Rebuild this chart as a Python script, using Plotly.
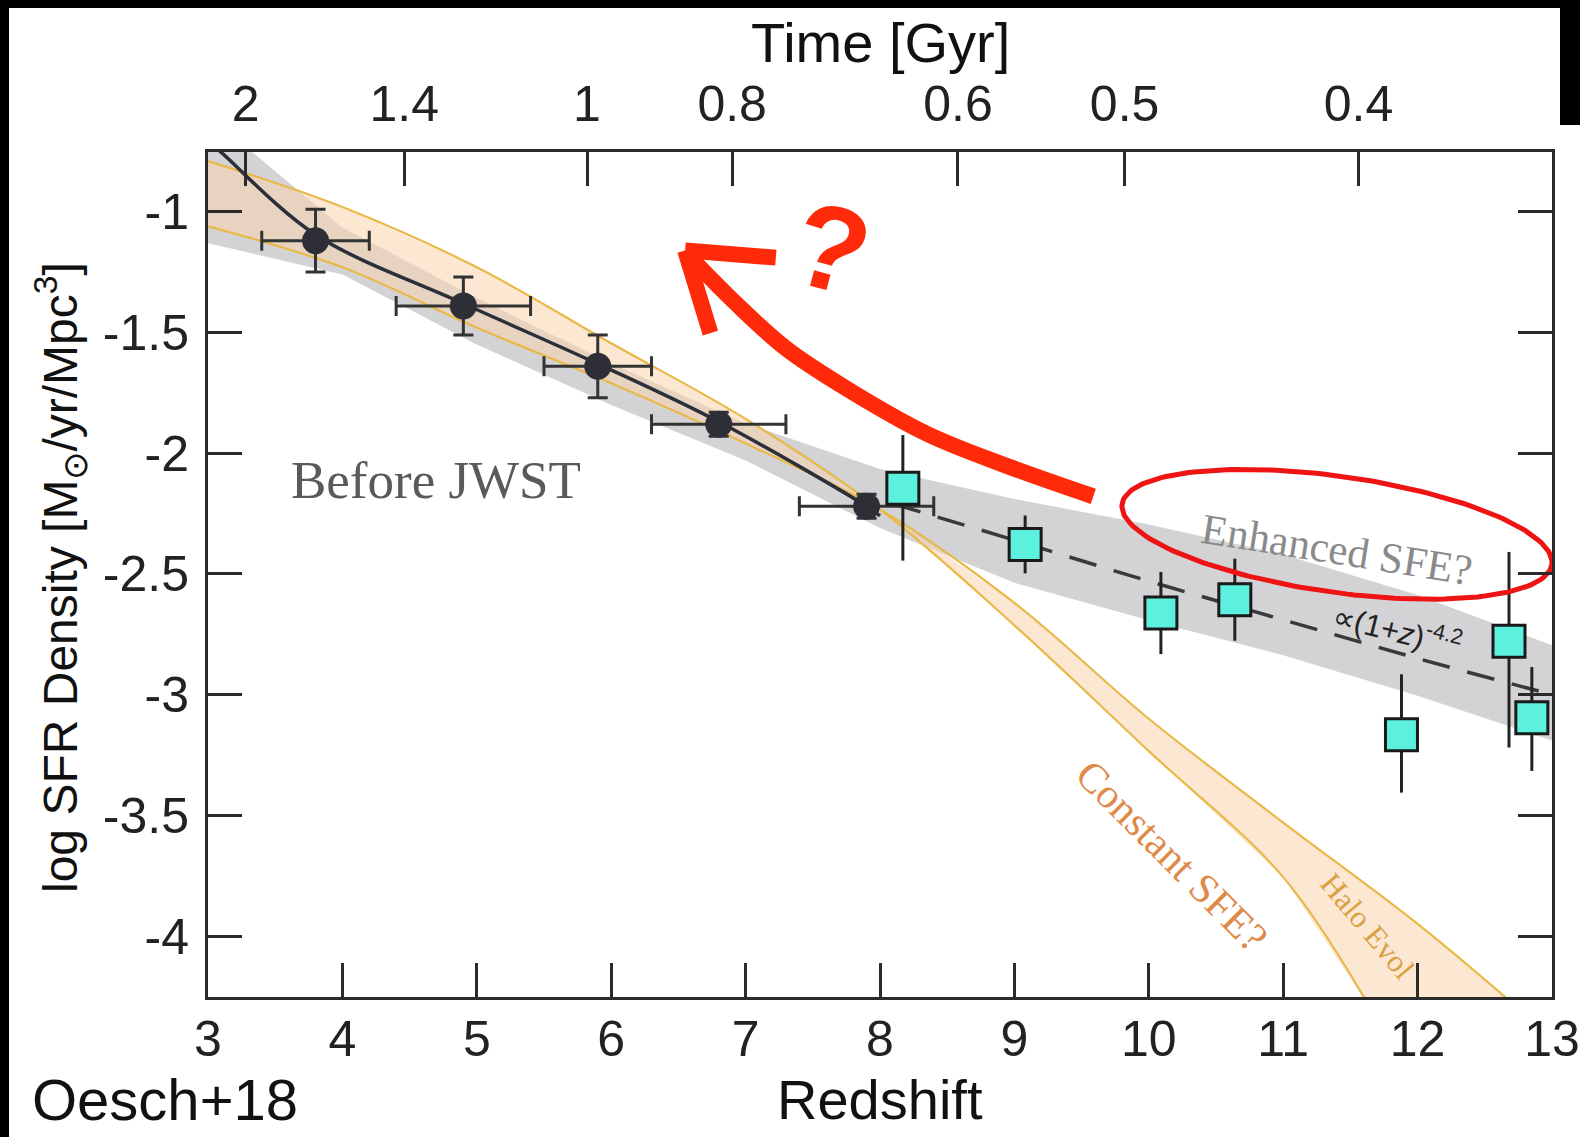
import numpy as np
import plotly.graph_objects as go

# ---------------- data ----------------
# Pre-JWST points (Oesch+18)
pre_z = [3.8, 4.9, 5.9, 6.8, 7.9]
pre_sfr = [-1.12, -1.39, -1.64, -1.88, -2.22]
pre_zerr = [0.4, 0.5, 0.4, 0.5, 0.5]
pre_err_up = [0.13, 0.12, 0.13, 0.05, 0.05]
pre_err_dn = [0.13, 0.12, 0.13, 0.05, 0.05]

# High-z points
hz_z = [8.17, 9.08, 10.09, 10.64, 11.88, 12.68, 12.85]
hz_sfr = [-2.145, -2.378, -2.662, -2.607, -3.166, -2.779, -3.096]
hz_err_up = [0.22, 0.12, 0.17, 0.17, 0.25, 0.37, 0.21]
hz_err_dn = [0.30, 0.12, 0.17, 0.17, 0.24, 0.44, 0.22]

# Fit curve (solid) before JWST
fit_z = [3.0, 3.09, 3.8, 4.9, 5.9, 6.8, 7.9, 8.0]
fit_sfr = [-0.71, -0.75, -1.095, -1.38, -1.63, -1.87, -2.22, -2.26]

# (1+z)^-4.2 extrapolation (dashed)
ext_z = [8.1, 9.0, 10.0, 11.0, 12.0, 13.0]
ext_sfr = [-2.21, -2.36, -2.53, -2.69, -2.85, -3.0]

# Gray uncertainty band
band_z = [3.0, 4.0, 5.0, 6.0, 7.0, 8.0, 9.0, 10.0, 11.0, 12.0, 13.0]
band_hi = [-0.60, -1.065, -1.357, -1.628, -1.877, -2.066, -2.19, -2.295, -2.42, -2.587, -2.796]
band_lo = [-1.13, -1.26, -1.55, -1.80, -2.03, -2.31, -2.537, -2.692, -2.837, -3.005, -3.19]

# Halo-evolution (constant SFE) model band edges
halo_a_z = [3.0, 4.0, 5.0, 6.0, 7.0, 8.0, 9.0, 10.0, 11.0, 11.65]
halo_a_sfr = [-0.79, -0.98, -1.23, -1.545, -1.858, -2.233, -2.713, -3.234, -3.756, -4.3]
halo_b_z = [3.0, 4.0, 5.0, 6.0, 7.0, 8.0, 9.0, 10.0, 11.0, 12.0, 12.75]
halo_b_sfr = [-1.06, -1.23, -1.48, -1.71, -1.96, -2.233, -2.62, -3.10, -3.53, -3.95, -4.3]

# Top axis: cosmic time ticks (redshift positions)
time_tick_z = [3.28, 4.46, 5.82, 6.90, 8.58, 9.82, 11.56]
time_tick_text = ["2", "1.4", "1", "0.8", "0.6", "0.5", "0.4"]

x_ticks = list(range(3, 14))
y_ticks = [-4, -3.5, -3, -2.5, -2, -1.5, -1]
y_tick_text = ["-4", "-3.5", "-3", "-2.5", "-2", "-1.5", "-1"]

# Red hand-drawn arrow (data coordinates)
arrow_z = [9.587, 8.95, 8.35, 7.75, 7.30, 6.925, 6.663, 6.55]
arrow_sfr = [-2.179, -2.054, -1.920, -1.732, -1.566, -1.378, -1.232, -1.165]
arrow_head_a_z = [6.55, 7.225]
arrow_head_a_sfr = [-1.16, -1.19]
arrow_head_b_z = [6.55, 6.738]
arrow_head_b_sfr = [-1.16, -1.503]

# Ellipse around "Enhanced SFE?"
ell_center = (11.40, -2.336)

# ---------------- layout constants ----------------
W, H = 1580, 1137
L, R, T, B = 208, 28, 152, 140
XR = [3, 13]
YR = [-4.2525, -0.7525]
pw, ph = W - L - R, H - T - B
px_per_x = pw / (XR[1] - XR[0])
px_per_y = ph / (YR[1] - YR[0])

AX = "#2a2a2a"
SANS = "Liberation Sans, Arial, sans-serif"
SERIF = "Liberation Serif, Times New Roman, serif"

fig = go.Figure()

# gray band
fig.add_trace(go.Scatter(
    x=band_z + band_z[::-1], y=band_hi + band_lo[::-1],
    fill="toself", fillcolor="rgba(203,203,206,0.85)", line=dict(width=0),
    mode="lines", hoverinfo="skip", showlegend=False))

# orange halo band
fig.add_trace(go.Scatter(
    x=halo_a_z + halo_b_z[::-1], y=halo_a_sfr + halo_b_sfr[::-1],
    fill="toself", fillcolor="rgba(250,212,175,0.55)", line=dict(width=0),
    mode="lines", hoverinfo="skip", showlegend=False))
for zz, yy in [(halo_a_z, halo_a_sfr), (halo_b_z, halo_b_sfr)]:
    fig.add_trace(go.Scatter(x=zz, y=yy, mode="lines", line=dict(color="#e9b948", width=2.2, shape="spline"),
                             hoverinfo="skip", showlegend=False))

# fit curve
fig.add_trace(go.Scatter(x=fit_z, y=fit_sfr, mode="lines",
                         line=dict(color="#2b2f3a", width=3.5, shape="spline"),
                         hoverinfo="skip", showlegend=False))
# dashed extrapolation
fig.add_trace(go.Scatter(x=ext_z, y=ext_sfr, mode="lines",
                         line=dict(color="#3a3a3a", width=3.5, dash="28px,18px", shape="spline"),
                         hoverinfo="skip", showlegend=False))

# pre-JWST points
fig.add_trace(go.Scatter(
    x=pre_z, y=pre_sfr, mode="markers",
    marker=dict(size=27, color="#2e2f36"),
    error_x=dict(type="data", array=pre_zerr, color="#333", thickness=3, width=10),
    error_y=dict(type="data", array=pre_err_up, arrayminus=pre_err_dn, color="#333", thickness=3, width=10),
    hoverinfo="skip", showlegend=False))

# high-z points
fig.add_trace(go.Scatter(
    x=hz_z, y=hz_sfr, mode="markers",
    marker=dict(size=32, symbol="square", color="#5cf0de", line=dict(color="#1a1a1a", width=3)),
    error_y=dict(type="data", array=hz_err_up, arrayminus=hz_err_dn, color="#222", thickness=3, width=0),
    hoverinfo="skip", showlegend=False))

# red arrow
fig.add_trace(go.Scatter(x=arrow_z, y=arrow_sfr, mode="lines",
                         line=dict(color="#ff2a0a", width=16, shape="spline"),
                         hoverinfo="skip", showlegend=False))
for zz, yy in [(arrow_head_a_z, arrow_head_a_sfr), (arrow_head_b_z, arrow_head_b_sfr)]:
    fig.add_trace(go.Scatter(x=zz, y=yy, mode="lines", line=dict(color="#ff2a0a", width=16),
                             hoverinfo="skip", showlegend=False))

# red ellipse
t = np.linspace(0, 2 * np.pi, 200)
a_px, b_px, ang = 217, 58, np.deg2rad(8)
dx = a_px * np.cos(t) * np.cos(ang) - b_px * np.sin(t) * np.sin(ang)
dy = a_px * np.cos(t) * np.sin(ang) + b_px * np.sin(t) * np.cos(ang)
fig.add_trace(go.Scatter(x=ell_center[0] + dx / px_per_x, y=ell_center[1] - dy / px_per_y,
                         mode="lines", line=dict(color="#ee1414", width=5),
                         hoverinfo="skip", showlegend=False))

# invisible trace for top axis
fig.add_trace(go.Scatter(x=XR, y=[YR[0] - 1, YR[0] - 1], xaxis="x2", mode="lines",
                         line=dict(width=0), hoverinfo="skip", showlegend=False))

ann = []
ann.append(dict(x=4.70, y=-2.11, text="Before JWST", showarrow=False,
                font=dict(family=SERIF, size=53, color="#5a5a5a")))
ann.append(dict(x=11.40, y=-2.40, text="Enhanced SFE?", showarrow=False, textangle=9,
                font=dict(family=SERIF, size=43, color="#8a8a8a")))
ann.append(dict(x=10.17, y=-3.67, text="Constant SFE?", showarrow=False, textangle=45,
                font=dict(family=SERIF, size=42, color="#e08a4a")))
ann.append(dict(x=11.63, y=-3.96, text="Halo Evol", showarrow=False, textangle=50,
                font=dict(family=SERIF, size=31, color="#d9a040")))
ann.append(dict(x=11.85, y=-2.73, text="∝(1+<i>z</i>)<sup>-4.2</sup>", showarrow=False, textangle=14,
                font=dict(family=SANS, size=31, color="#222")))
ann.append(dict(x=7.64, y=-1.15, text="<b>?</b>", showarrow=False, textangle=15,
                font=dict(family=SANS, size=120, color="#ff2a0a")))
# titles
ann.append(dict(x=8.0, xref="x", y=(H - B - 42) / ph, yref="paper", text="Time [Gyr]", showarrow=False,
                font=dict(family=SANS, size=56, color="#111"), yanchor="middle"))
ann.append(dict(x=8.0, xref="x", y=(H - B - 1099) / ph, yref="paper", text="Redshift", showarrow=False,
                font=dict(family=SANS, size=56, color="#111"), yanchor="middle"))
ann.append(dict(x=(30 - L) / pw, xref="paper", y=(H - B - 1099) / ph, yref="paper", text="Oesch+18",
                showarrow=False, xanchor="left", yanchor="middle",
                font=dict(family=SANS, size=58, color="#111")))
ann.append(dict(x=(60 - L) / pw, xref="paper", y=(H - B - 578) / ph, yref="paper",
                text="log SFR Density [M<sub>⊙</sub>/yr/Mpc<sup>3</sup>]", showarrow=False, textangle=-90,
                xanchor="center", yanchor="middle",
                font=dict(family=SANS, size=48, color="#111")))

# black frame strips (top, left, top-right)
shapes = [
    dict(type="rect", xref="paper", yref="paper", x0=-1, x1=2, y0=(H - B - 8) / ph, y1=3,
         fillcolor="black", line=dict(width=0), layer="above"),
    dict(type="rect", xref="paper", yref="paper", x0=-1, x1=(9 - L) / pw, y0=-1, y1=3,
         fillcolor="black", line=dict(width=0), layer="above"),
    dict(type="rect", xref="paper", yref="paper", x0=(1560 - L) / pw, x1=2, y0=(H - B - 125) / ph, y1=3,
         fillcolor="black", line=dict(width=0), layer="above"),
]

fig.update_layout(
    width=W, height=H, margin=dict(l=L, r=R, t=T, b=B, autoexpand=False),
    paper_bgcolor="white", plot_bgcolor="white", showlegend=False,
    annotations=ann, shapes=shapes,
    xaxis=dict(range=XR, tickvals=x_ticks, ticktext=[str(v) for v in x_ticks],
               ticks="inside", ticklen=34, tickwidth=3, tickcolor=AX,
               showline=True, linecolor=AX, linewidth=3, mirror=False,
               showgrid=False, zeroline=False, ticklabelstandoff=-4,
               tickfont=dict(family=SANS, size=50, color="#222")),
    xaxis2=dict(range=XR, overlaying="x", side="top", tickvals=time_tick_z, ticktext=time_tick_text,
                ticks="inside", ticklen=34, tickwidth=3, tickcolor=AX,
                showline=True, linecolor=AX, linewidth=3,
                showgrid=False, zeroline=False, ticklabelstandoff=8,
                tickfont=dict(family=SANS, size=50, color="#222")),
    yaxis=dict(range=YR, tickvals=y_ticks, ticktext=y_tick_text,
               ticks="inside", ticklen=34, tickwidth=3, tickcolor=AX,
               showline=True, linecolor=AX, linewidth=3, mirror="ticks",
               showgrid=False, zeroline=False, ticklabelstandoff=6,
               tickfont=dict(family=SANS, size=50, color="#222")),
)

fig.write_html("out.html", config={"displayModeBar": False},
               post_script="document.body.style.margin='0px';document.body.style.overflow='hidden';")
